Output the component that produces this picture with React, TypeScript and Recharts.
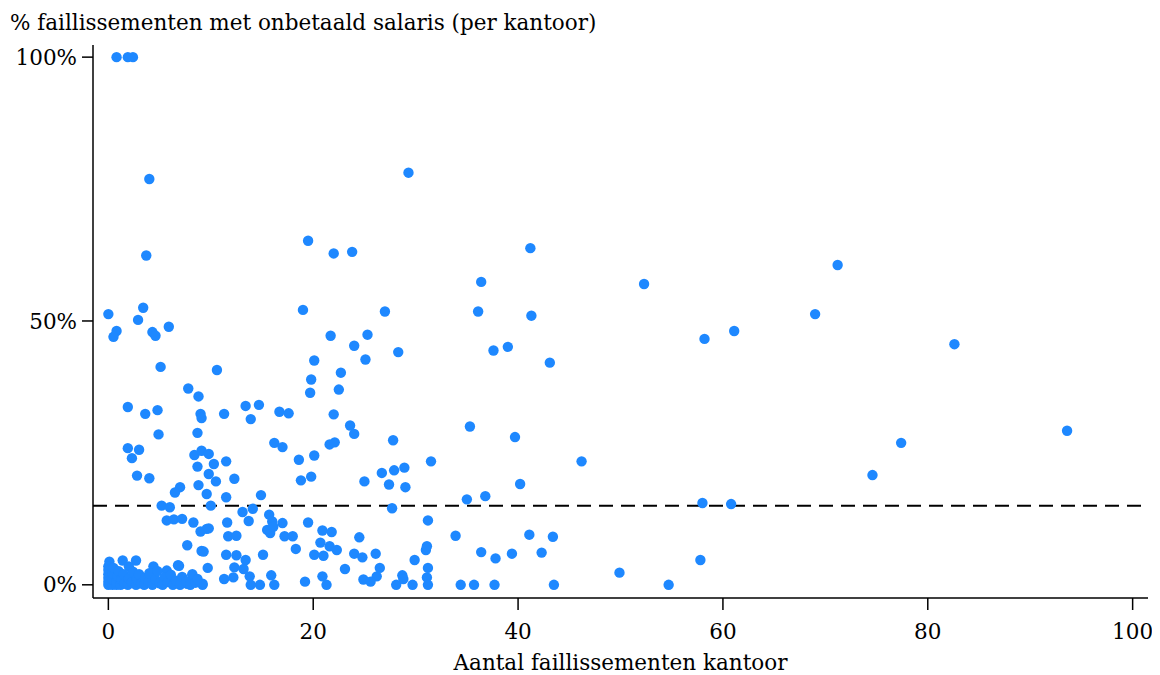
import { Label, ReferenceLine, Scatter, ScatterChart, XAxis, YAxis } from 'recharts';

type Pt = [number, number];

const xTicks = [0, 20, 40, 60, 80, 100];
const yTicks = [0, 50, 100];
const benchmarkShare = 15;

// offices with a high share of unpaid-salary bankruptcies (>= 40%)
const highShare: Pt[] = [
  [0.8, 100], [1.9, 100], [2.4, 100],
  [4.0, 76.9], [29.3, 78.1],
  [3.7, 62.4], [19.5, 65.2], [22.0, 62.8], [23.8, 63.1], [41.2, 63.8],
  [71.2, 60.6], [52.3, 57.0], [36.4, 57.4],
  [0, 51.3], [3.4, 52.5], [2.9, 50.2], [0.8, 48.1], [0.5, 47.0], [4.3, 47.9],
  [4.6, 47.2], [5.9, 48.9], [5.1, 41.3], [10.6, 40.7],
  [19.0, 52.1], [27.0, 51.8], [36.1, 51.8], [41.3, 51.0], [69.0, 51.3],
  [21.7, 47.2], [25.3, 47.4], [24.0, 45.3], [28.3, 44.1], [37.6, 44.4],
  [39.0, 45.1], [43.1, 42.1], [20.1, 42.5], [25.1, 42.7], [22.7, 40.2],
  [58.2, 46.6], [61.1, 48.1], [82.6, 45.6],
];

// 15% - 40%
const midShare: Pt[] = [
  [19.8, 38.9], [19.7, 36.4], [22.5, 37.0], [7.8, 37.2], [8.8, 35.7],
  [1.9, 33.7], [3.6, 32.4], [4.8, 33.1], [9.0, 32.4], [9.1, 31.6], [11.3, 32.4],
  [13.4, 33.9], [14.7, 34.1], [13.9, 31.4], [16.7, 32.8], [17.6, 32.5],
  [22.0, 32.3], [23.6, 30.2], [35.3, 30.0], [93.6, 29.2],
  [4.9, 28.5], [8.7, 28.8], [24.0, 28.6], [39.7, 28.0], [27.8, 27.4],
  [21.6, 26.6], [22.1, 27.0], [16.2, 26.9], [17.0, 26.1], [77.4, 26.9],
  [1.9, 25.9], [3.0, 25.6], [2.3, 24.0], [8.4, 24.6], [9.1, 25.4], [9.8, 24.8],
  [10.3, 22.9], [11.5, 23.4], [8.7, 22.4], [18.6, 23.7], [20.1, 24.5],
  [31.5, 23.4], [46.2, 23.4], [2.8, 20.7], [4.0, 20.2], [9.8, 21.0],
  [12.3, 20.1], [26.7, 21.2], [27.9, 21.7], [28.9, 22.2], [18.8, 19.8],
  [19.8, 20.5], [74.6, 20.8],
  [10.5, 19.6], [7.0, 18.5], [6.5, 17.5], [8.8, 18.9], [9.6, 17.2],
  [11.5, 16.6], [10.0, 15.0], [5.2, 15.0], [6.0, 14.7], [14.9, 17.0],
  [25.0, 19.6], [27.4, 19.0], [29.0, 18.5], [40.2, 19.1], [35.0, 16.2],
  [36.8, 16.8], [14.1, 14.4], [27.7, 14.5], [58.0, 15.5], [60.8, 15.3],
];

// 5% - 15%
const lowShare: Pt[] = [
  [13.1, 13.8], [5.7, 12.2], [6.4, 12.4], [7.2, 12.5], [8.3, 11.8],
  [9.6, 10.6], [9.0, 10.1], [9.8, 10.7], [11.6, 11.8], [11.7, 9.2],
  [12.5, 9.3], [13.7, 12.1], [15.7, 13.3], [16.0, 12.0], [17.0, 11.7],
  [15.5, 10.4], [15.8, 9.8], [16.1, 11.0], [17.2, 9.2], [18.0, 9.2],
  [19.5, 11.8], [20.9, 10.3], [21.8, 10.0],
  [31.2, 12.2], [24.5, 9.0], [33.9, 9.3], [41.1, 9.5], [43.4, 9.1],
  [7.7, 7.5], [9.1, 6.4], [9.3, 6.3], [11.5, 5.7], [12.5, 5.6], [13.4, 4.7],
  [15.1, 5.7], [18.3, 6.8], [20.1, 5.7], [21.0, 5.5], [20.7, 8.0],
  [21.6, 7.3], [22.3, 6.6], [24.0, 5.9], [24.8, 5.2], [26.1, 5.9],
  [31.0, 6.6], [31.1, 7.3], [29.9, 4.7], [36.4, 6.2], [37.8, 5.0],
  [39.4, 5.9], [42.3, 6.1], [57.8, 4.7],
];

// below 5%, outside the crowded corner
const nearZero: Pt[] = [
  [23.1, 3.0], [20.9, 1.6], [21.3, 0], [19.2, 0.6], [15.9, 1.8], [16.2, 0],
  [14.8, 0], [13.9, 0], [13.8, 1.6], [13.2, 3.0], [12.3, 3.3], [12.2, 1.4],
  [11.3, 1.1], [9.7, 3.2], [6.9, 3.6], [9.2, 0], [8.2, 1.7], [7.7, 0.2],
  [26.5, 3.2], [31.2, 3.2], [26.2, 1.6], [24.9, 1.0], [25.6, 0.6],
  [28.7, 1.8], [28.8, 1.1], [31.1, 1.4], [28.1, 0], [29.7, 0], [31.2, 0],
  [34.4, 0], [35.7, 0], [37.7, 0], [43.5, 0], [49.9, 2.3], [54.7, 0],
];

// small offices, crowded bottom-left corner
const smallOffices: Pt[] = [
  [0.1, 4.4], [1.4, 4.6], [2.0, 3.5], [2.7, 4.6], [4.4, 3.5], [5.7, 2.7],
  [6.8, 3.7], [8.2, 2.0], [9.2, 0.2],
  [0, 3.5], [0, 2.8], [0, 2.0], [0, 1.3], [0, 0.6], [0, 0],
  [0.4, 0], [0.4, 1.0], [0.4, 2.2], [0.5, 3.2],
  [0.8, 0], [0.8, 0.5], [0.9, 1.6], [1.0, 2.6],
  [1.2, 0], [1.3, 1.0], [1.5, 2.0], [1.6, 0.3],
  [1.9, 0], [2.0, 1.2], [2.3, 0.5], [2.4, 2.5],
  [2.7, 0], [2.8, 1.0], [3.0, 2.0], [3.2, 0.3],
  [3.5, 0], [3.6, 1.3], [3.9, 0.5], [4.0, 2.2],
  [4.3, 0], [4.6, 1.0], [4.8, 2.6], [5.0, 0.3],
  [5.3, 0], [5.5, 1.4], [5.8, 0.5], [6.1, 1.9],
  [6.3, 0], [6.6, 0.8], [7.0, 0], [7.2, 1.5], [7.6, 0.6], [8.0, 0],
  [8.5, 0.4], [8.7, 1.1],
];

const offices = [...highShare, ...midShare, ...lowShare, ...nearZero, ...smallOffices].map(
  ([x, y]) => ({ x, y }),
);

const FONT = '"DejaVu Serif", serif';
const tickStyle = { fill: '#000', fontSize: 21.5, fontFamily: FONT };

function Dot(props: any) {
  const { cx, cy } = props;
  if (cx == null || cy == null) return null;
  return <circle cx={cx} cy={cy} r={5.2} fill="#1e88ff" />;
}

export default function App() {
  return (
    <div style={{ position: 'relative', width: 1144, height: 667, fontFamily: FONT }}>
      <div
        style={{
          position: 'absolute',
          left: 2,
          top: 2,
          fontSize: 21.5,
          lineHeight: '26px',
          color: '#000',
          whiteSpace: 'nowrap',
        }}
      >
        % faillissementen met onbetaald salaris (per kantoor)
      </div>
      <ScatterChart width={1144} height={667} margin={{ top: 37, right: 4, bottom: 0, left: 0 }}>
        <XAxis
          type="number"
          dataKey="x"
          domain={[-1.5, 101.5]}
          ticks={xTicks}
          allowDataOverflow
          height={77}
          tick={tickStyle}
          tickSize={12}
          tickMargin={14}
          axisLine={{ stroke: '#000', strokeWidth: 1.5 }}
          tickLine={{ stroke: '#000', strokeWidth: 1.5 }}
        >
          <Label
            value="Aantal faillissementen kantoor"
            position="insideBottom"
            offset={5}
            style={{ fill: '#000', fontSize: 21.5, fontFamily: FONT }}
          />
        </XAxis>
        <YAxis
          type="number"
          dataKey="y"
          domain={[-2.5, 102.3]}
          ticks={yTicks}
          allowDataOverflow
          width={85}
          tick={tickStyle}
          tickFormatter={(v: number) => `${v}%`}
          tickSize={11}
          tickMargin={5}
          axisLine={{ stroke: '#000', strokeWidth: 1.5 }}
          tickLine={{ stroke: '#000', strokeWidth: 1.5 }}
        />
        <ReferenceLine
          y={benchmarkShare}
          stroke="#000"
          strokeWidth={2}
          strokeDasharray="14 8"
        />
        <Scatter data={offices} shape={Dot} isAnimationActive={false} />
      </ScatterChart>
    </div>
  );
}
